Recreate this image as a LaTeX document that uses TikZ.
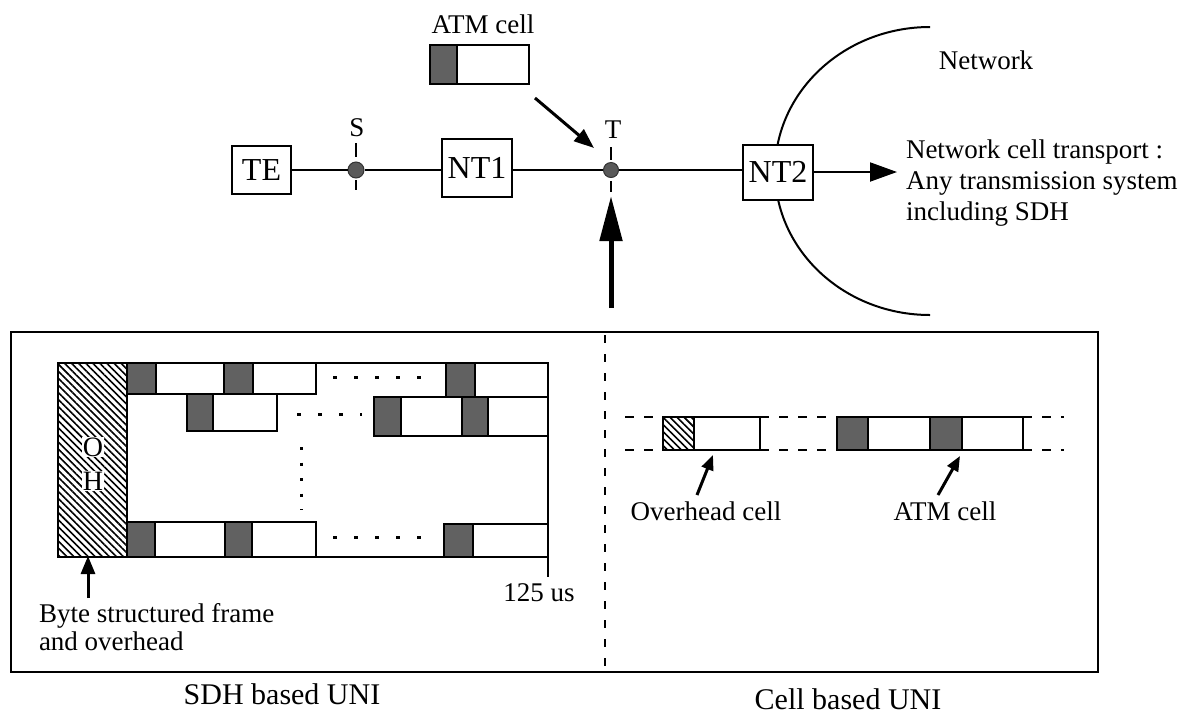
\documentclass[tikz,border=0pt]{standalone}
\usepackage{fontspec}
\setmainfont{Liberation Serif}
\usetikzlibrary{arrows.meta,patterns.meta}
\colorlet{stip}{black!62}
\begin{document}
\begin{tikzpicture}[x=1pt,y=-1pt,line width=2pt,
  boxlbl/.style={draw,fill=white,inner sep=0pt,line width=2pt,font=\fontsize{32}{34}\selectfont},
  lbl/.style={inner sep=0pt,font=\fontsize{27}{30}\selectfont},
  biglbl/.style={inner sep=0pt,font=\fontsize{30}{32}\selectfont},
  ohlet/.style={inner sep=1pt,fill=white,font=\fontsize{28}{30}\selectfont},
  refdot/.style={circle,fill=black!65,draw=black!80,line width=1pt,minimum size=16pt,inner sep=0pt},
  hdr/.style={draw,fill=stip,line width=1.5pt},
  pay/.style={draw,fill=white,line width=1.5pt},
  ohc/.style={draw,line width=1.5pt,pattern={Lines[angle=-45,distance=5pt,line width=1.6pt]}},
  dotted line/.style={line width=3pt,dash pattern=on 4pt off 17pt},
  cell dash/.style={line width=2pt,dash pattern=on 9pt off 10pt},
  div dash/.style={line width=2pt,dash pattern=on 8pt off 11pt},
]
\useasboundingbox (0,0) rectangle (1192,716);

% ---------- network cloud edge ----------
\draw (930,27) .. controls (844.4,27) and (775,91.5) .. (775,171)
      .. controls (775,250.5) and (844.4,315) .. (930,315);
\node[lbl] (netlbl) at (986,60) {Network};

% ---------- reference configuration ----------
\node[boxlbl,minimum width=59pt,minimum height=48pt] (TE) at (261.5,170) {TE};
\node[refdot] (S) at (356,170) {};
\node[boxlbl,minimum width=70pt,minimum height=58pt] (NT1) at (477,168) {NT1};
\node[refdot,minimum size=15pt] (T) at (611,170) {};
\node[boxlbl,minimum width=70pt,minimum height=55pt] (NT2) at (778,172) {NT2};
\coordinate (netout) at (897,172);

\draw (TE.east) -- (S);
\draw (S) -- (NT1.west |- S);
\draw (NT1.east |- T) -- (T);
\draw (T) -- (NT2.west |- T);
\draw[-{Triangle[length=27pt,width=19pt]}] (NT2.east) -- (netout);

\draw (356,143) -- (356,157);
\draw (356,180) -- (356,190);
\draw (611,147) -- (611,160);
\draw (611,181) -- (611,192);
\node[lbl] (Slbl) at (357,128) {S};
\node[lbl] (Tlbl) at (613,130) {T};

\node[lbl,anchor=north west,align=left,font=\fontsize{27}{31}\selectfont] (transp) at (905,139)
  {Network cell transport :\\Any transmission system\\including SDH};

% ATM cell (top)
\node[lbl] (atmlbl) at (483,24) {ATM cell};
\draw[hdr] (430,45) rectangle (457,84);
\draw[pay] (457,45) rectangle (529,84);
\coordinate (atmA) at (535,98);
\coordinate (atmB) at (594,148);
\draw[line width=3pt,-{Triangle[length=20pt,width=15pt]}] (atmA) -- (atmB);

% big vertical arrow
\coordinate (upA) at (611,308);
\coordinate (upB) at (611,196);
\draw[line width=5pt,-{Triangle[length=45pt,width=22pt]}] (upA) -- (upB);

% ---------- bottom box ----------
\draw (11,332) rectangle (1098,672);
\draw[div dash] (605,335) -- (605,672);

% SDH frame
\draw[ohc] (58,363) rectangle (127,557);
\node[ohlet] (Olet) at (93,447) {O};
\node[ohlet] (Hlet) at (93,481) {H};
% row 1
\draw[hdr] (127,363) rectangle (156,394);
\draw[pay] (156,363) rectangle (224,394);
\draw[hdr] (224,363) rectangle (253,394);
\draw[pay] (253,363) rectangle (316,394);
\draw[hdr] (446,363) rectangle (475,397);
\draw[pay] (475,363) rectangle (548,397);
% row 2
\draw[hdr] (187,394) rectangle (213,431);
\draw[pay] (213,394) rectangle (277,431);
\draw[hdr] (374,397) rectangle (401,436);
\draw[pay] (401,397) rectangle (462,436);
\draw[hdr] (462,397) rectangle (488,436);
\draw[pay] (488,397) rectangle (548,436);
% row 3
\draw[hdr] (127,522) rectangle (155,557);
\draw[pay] (155,522) rectangle (225,557);
\draw[hdr] (225,522) rectangle (252,557);
\draw[pay] (252,522) rectangle (316,557);
\draw[hdr] (444,524) rectangle (473,557);
\draw[pay] (473,524) rectangle (548,557);
% frame outline
\draw (58,363) rectangle (548,557);
\draw (548,557) -- (548,577);
% dotted continuation
\draw[dotted line] (333,377) -- (421,377);
\draw[dotted line] (297,414) -- (362,414);
\draw[dotted line,dash pattern=on 3pt off 12.5pt] (301,447) -- (301,510);
\draw[dotted line] (333,537) -- (421,537);

\node[lbl] (us) at (539,593) {125 us};
\coordinate (byteA) at (88,598);
\coordinate (byteB) at (88,556);
\draw[line width=3pt,-{Triangle[length=18pt,width=14pt]}] (byteA) -- (byteB);
\node[lbl,anchor=north west,align=left,font=\fontsize{27}{28}\selectfont] (bytelbl) at (38,602)
  {Byte structured frame\\and overhead};

% Cell based
\draw[cell dash] (625,417) -- (663,417);
\draw[cell dash] (625,450) -- (663,450);
\draw[cell dash] (760,417) -- (837,417);
\draw[cell dash] (760,450) -- (837,450);
\draw[cell dash] (1023,417) -- (1064,417);
\draw[cell dash] (1023,450) -- (1064,450);
\draw[ohc] (663,417) rectangle (694,450);
\draw[pay] (694,417) rectangle (760,450);
\draw[hdr] (837,417) rectangle (868,450);
\draw[pay] (868,417) rectangle (930,450);
\draw[hdr] (930,417) rectangle (962,450);
\draw[pay] (962,417) rectangle (1023,450);

\coordinate (ohA) at (697,495);
\coordinate (ohB) at (713,455);
\draw[line width=3pt,-{Triangle[length=15pt,width=12pt]}] (ohA) -- (ohB);
\coordinate (acA) at (938,495);
\coordinate (acB) at (960,456);
\draw[line width=3pt,-{Triangle[length=15pt,width=12pt]}] (acA) -- (acB);
\node[lbl] (ohlbl) at (706,511) {Overhead cell};
\node[lbl] (aclbl) at (945,511) {ATM cell};

% captions
\node[biglbl] (sdhuni) at (282,694) {SDH based UNI};
\node[biglbl] (celluni) at (848,699) {Cell based UNI};
\end{tikzpicture}
\end{document}
